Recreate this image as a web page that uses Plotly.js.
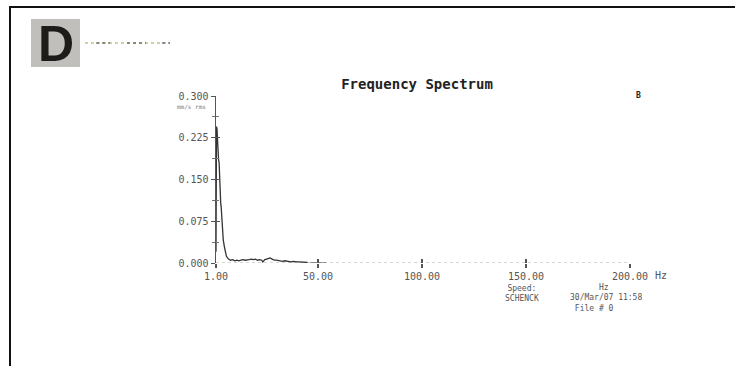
<!DOCTYPE html>
<html>
<head>
<meta charset="utf-8">
<script src="https://cdn.plot.ly/plotly-3.0.1.min.js"></script>
<style>html,body{margin:0;padding:0;background:#fff;}#chart{width:735px;height:366px;}</style>
</head>
<body>
<div id="chart"></div>
<script>
// ---- data ----
const freqHz = [1.0,1.25,1.5,1.75,2.0,2.25,2.5,2.75,3.0,3.25,3.5,3.75,4.0,4.5,5.0,5.5,6,7,8,9,10,11,12,13,14,15,16,17,18,19,20,21,22,23,23.5,24.5,26,27,28,29,30,31,32,33,34,35,36,37,38,39,40,41,42,43,44,45];
const ampRms = [0.02,0.245,0.24,0.22,0.185,0.185,0.18,0.15,0.11,0.108,0.10,0.08,0.06,0.041,0.03,0.018,0.012,0.007,0.005,0.006,0.004,0.005,0.004,0.005,0.006,0.005,0.005,0.006,0.007,0.006,0.007,0.005,0.006,0.005,0.002,0.006,0.008,0.009,0.007,0.005,0.005,0.004,0.004,0.003,0.004,0.003,0.003,0.002,0.003,0.002,0.002,0.002,0.002,0.002,0.002,0.001];
const xTickVals = [1, 50, 100, 150, 200];
const xTickText = ['1.00', '50.00', '100.00', '150.00', '200.00'];
const yTickVals = [0, 0.075, 0.15, 0.225, 0.3];
const yTickText = ['0.000', '0.075', '0.150', '0.225', '0.300'];
const chartTitle = 'Frequency Spectrum';
const yUnit = 'mm/s rms';
const panelLetter = 'D';
const channelMark = 'B';
const xUnit = 'Hz';
const footLeft = ['Speed:', 'SCHENCK'];
const footRight = ['&nbsp;&nbsp;&nbsp;&nbsp;&nbsp;&nbsp;Hz', '30/Mar/07 11:58', '&nbsp;File # 0'];

// ---- layout geometry (pixels) ----
const L = 216, R = 105, T = 96, B = 103;
const W = 735 - L - R, H = 366 - T - B;
const PX = p => (p - L) / W;
const PY = p => (366 - B - p) / H;

const mono = 'DejaVu Sans Mono, Liberation Mono, monospace';
const tickCol = '#555';

const traces = [
  {x: freqHz, y: ampRms, type: 'scatter', mode: 'lines', line: {color: '#333', width: 1.3}, hoverinfo: 'skip', showlegend: false},
  {x: freqHz, y: ampRms, xaxis: 'x2', yaxis: 'y2', type: 'scatter', mode: 'lines', line: {color: 'rgba(0,0,0,0)', width: 0}, hoverinfo: 'skip', showlegend: false}
];

const axBase = {showgrid: false, zeroline: false, fixedrange: true};

const ann = (text, px, py, size, opts) => Object.assign({
  text: text, xref: 'paper', yref: 'paper', x: PX(px), y: PY(py),
  xanchor: 'center', yanchor: 'middle', showarrow: false,
  font: {family: mono, size: size, color: '#555'}
}, opts || {});

const layout = {
  width: 735, height: 366,
  margin: {l: L, r: R, t: T, b: B},
  paper_bgcolor: '#fff', plot_bgcolor: '#fff',
  title: {text: '<b>' + chartTitle + '</b>', xref: 'paper', x: PX(417), xanchor: 'center', yref: 'container', y: 1 - 84/366, yanchor: 'middle', font: {family: mono, size: 14, color: '#222'}},
  xaxis: Object.assign({}, axBase, {
    range: [1, 200], tickmode: 'array', tickvals: xTickVals, ticktext: xTickText,
    ticks: 'outside', ticklen: 4, tickwidth: 1.5, tickcolor: tickCol, showline: false,
    tickfont: {family: mono, size: 10, color: '#555'}
  }),
  xaxis2: Object.assign({}, axBase, {
    overlaying: 'x', matches: 'x', range: [1, 200], tickmode: 'array', tickvals: xTickVals.slice(1),
    ticks: 'inside', ticklen: 4, tickwidth: 1.5, tickcolor: tickCol, showticklabels: false, showline: false
  }),
  yaxis: Object.assign({}, axBase, {
    range: [0, 0.3], tickmode: 'array', tickvals: yTickVals, ticktext: yTickText,
    ticks: 'outside', ticklen: 4, tickwidth: 1, tickcolor: tickCol,
    showline: true, linecolor: '#555', linewidth: 1.5,
    minor: {tick0: 0, dtick: 0.0375, ticks: 'outside', ticklen: 3, tickwidth: 1, tickcolor: '#777'},
    tickfont: {family: mono, size: 10, color: '#555'}
  }),
  yaxis2: Object.assign({}, axBase, {
    overlaying: 'y', matches: 'y', range: [0, 0.3], tickmode: 'array', tickvals: yTickVals,
    ticks: 'inside', ticklen: 4, tickwidth: 1, tickcolor: tickCol, showticklabels: false, showline: false,
    minor: {tick0: 0, dtick: 0.0375, ticks: 'inside', ticklen: 3, tickwidth: 1, tickcolor: '#777'}
  }),
  shapes: [
    {type: 'rect', xref: 'paper', yref: 'paper', x0: PX(10), x1: PX(745), y0: PY(376), y1: PY(7), line: {color: '#111', width: 2}, fillcolor: 'rgba(0,0,0,0)', layer: 'below'},
    {type: 'rect', xref: 'paper', yref: 'paper', x0: PX(31), x1: PX(80), y0: PY(67), y1: PY(19), line: {width: 0}, fillcolor: '#c1bfbc', layer: 'below'},
    {type: 'line', xref: 'paper', yref: 'paper', x0: PX(85), x1: PX(170), y0: PY(43), y1: PY(43), line: {color: '#8aab4a', width: 1, dash: 'dot'}},
    {type: 'line', xref: 'paper', yref: 'paper', x0: PX(96), x1: PX(110), y0: PY(43), y1: PY(43), line: {color: '#444', width: 1, dash: 'dot'}},
    {type: 'line', xref: 'paper', yref: 'paper', x0: PX(127), x1: PX(146), y0: PY(43), y1: PY(43), line: {color: '#444', width: 1, dash: 'dot'}},
    {type: 'line', xref: 'paper', yref: 'paper', x0: PX(162), x1: PX(170), y0: PY(43), y1: PY(43), line: {color: '#444', width: 1, dash: 'dot'}},
    {type: 'line', xref: 'x', yref: 'y', x0: 1, x1: 200, y0: 0, y1: 0, line: {color: '#aaa', width: 1, dash: 'dot'}, layer: 'below'},
    {type: 'line', xref: 'x', yref: 'y', x0: 46, x1: 54, y0: 0, y1: 0, line: {color: '#555', width: 1.2}}
  ],
  annotations: [
    ann('<b>' + panelLetter + '</b>', 55.5, 44, 50, {font: {family: 'Liberation Sans, Arial, sans-serif', size: 50, color: '#1e1c1a'}}),
    ann('<b>' + channelMark + '</b>', 638, 95, 8, {font: {family: mono, size: 8, color: '#222'}}),
    ann(yUnit, 208, 106, 6, {xanchor: 'right', font: {family: mono, size: 6, color: '#777'}}),
    ann(xUnit, 661, 275, 10),
    ann(footLeft.join('<br>'), 522, 293, 8),
    ann(footRight.join('<br>'), 568, 298, 8, {xanchor: 'left', align: 'left'})
  ]
};

Plotly.newPlot('chart', traces, layout, {staticPlot: true, displayModeBar: false});
</script>
</body>
</html>
